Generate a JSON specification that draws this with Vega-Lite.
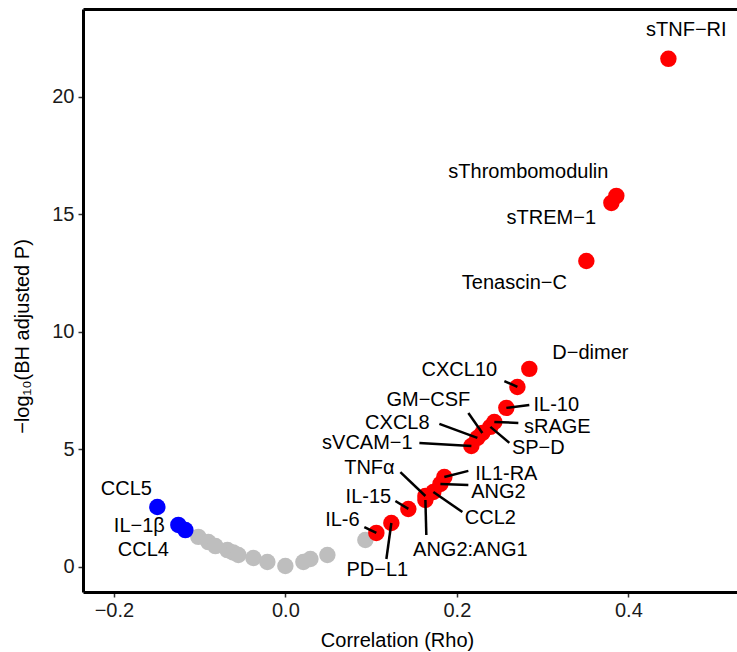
{
  "$schema": "https://vega.github.io/schema/vega-lite/v6.json",
  "width": 654,
  "height": 583,
  "autosize": {"type": "none"},
  "padding": {"left": 83, "top": 9, "right": 0, "bottom": 60},
  "background": "white",
  "config": {
    "view": {"stroke": null},
    "font": "Liberation Sans",
    "axis": {"grid": false, "domainColor": "black", "domainWidth": 3, "tickColor": "#333333", "tickWidth": 1.5, "tickSize": 5, "labelFont": "Liberation Sans", "labelFontSize": 20, "labelColor": "#1a1a1a", "titleFont": "Liberation Sans", "titleFontSize": 20, "titleFontWeight": "normal", "titleColor": "black"}
  },
  "data": {"values": [
    {"name": "g1", "rho": -0.1015, "logp": 1.28, "grp": "ns"},
    {"name": "g2", "rho": -0.0898, "logp": 1.06, "grp": "ns"},
    {"name": "g3", "rho": -0.0816, "logp": 0.89, "grp": "ns"},
    {"name": "g4", "rho": -0.0676, "logp": 0.72, "grp": "ns"},
    {"name": "g5", "rho": -0.0610, "logp": 0.62, "grp": "ns"},
    {"name": "g6", "rho": -0.0548, "logp": 0.51, "grp": "ns"},
    {"name": "g7", "rho": -0.0373, "logp": 0.38, "grp": "ns"},
    {"name": "g8", "rho": -0.0210, "logp": 0.21, "grp": "ns"},
    {"name": "g9", "rho": 0.0, "logp": 0.04, "grp": "ns"},
    {"name": "g10", "rho": 0.0210, "logp": 0.21, "grp": "ns"},
    {"name": "g11", "rho": 0.0292, "logp": 0.34, "grp": "ns"},
    {"name": "g12", "rho": 0.0490, "logp": 0.51, "grp": "ns"},
    {"name": "g13", "rho": 0.0933, "logp": 1.15, "grp": "ns"},
    {"name": "CCL5", "rho": -0.1493, "logp": 2.55, "grp": "neg", "lx": -0.1854, "ly": 3.32},
    {"name": "IL−1β", "rho": -0.1248, "logp": 1.79, "grp": "neg", "lx": -0.1703, "ly": 1.74},
    {"name": "CCL4", "rho": -0.1166, "logp": 1.57, "grp": "neg", "lx": -0.1656, "ly": 0.72},
    {"name": "sTNF−RI", "rho": 0.4467, "logp": 21.62, "grp": "pos", "lx": 0.4676, "ly": 22.85},
    {"name": "sThrombomodulin", "rho": 0.3860, "logp": 15.79, "grp": "pos", "lx": 0.2834, "ly": 16.81},
    {"name": "sTREM−1", "rho": 0.3802, "logp": 15.49, "grp": "pos", "lx": 0.3102, "ly": 14.85},
    {"name": "Tenascin−C", "rho": 0.3510, "logp": 13.02, "grp": "pos", "lx": 0.2671, "ly": 12.09},
    {"name": "D−dimer", "rho": 0.2845, "logp": 8.43, "grp": "pos", "lx": 0.3557, "ly": 9.11},
    {"name": "CXCL10", "rho": 0.2706, "logp": 7.66, "grp": "pos", "lx": 0.2029, "ly": 8.38, "sx": 0.2554, "sy": 7.91},
    {"name": "IL-10", "rho": 0.2577, "logp": 6.77, "grp": "pos", "lx": 0.3160, "ly": 6.89, "sx": 0.2845, "sy": 6.89},
    {"name": "sRAGE", "rho": 0.2437, "logp": 6.17, "grp": "pos", "lx": 0.3172, "ly": 5.96, "sx": 0.2717, "sy": 6.13},
    {"name": "SP−D", "rho": 0.2391, "logp": 5.96, "grp": "pos", "lx": 0.2950, "ly": 5.06, "sx": 0.2612, "sy": 5.28},
    {"name": "GM−CSF", "rho": 0.2297, "logp": 5.70, "grp": "pos", "lx": 0.1668, "ly": 7.11, "sx": 0.2134, "sy": 6.55},
    {"name": "CXCL8", "rho": 0.2239, "logp": 5.49, "grp": "pos", "lx": 0.1306, "ly": 6.13, "sx": 0.1796, "sy": 6.09},
    {"name": "sVCAM−1", "rho": 0.2169, "logp": 5.15, "grp": "pos", "lx": 0.0956, "ly": 5.28, "sx": 0.1563, "sy": 5.28},
    {"name": "IL1-RA", "rho": 0.1854, "logp": 3.83, "grp": "pos", "lx": 0.2577, "ly": 3.96, "sx": 0.2134, "sy": 4.09},
    {"name": "ANG2", "rho": 0.1808, "logp": 3.53, "grp": "pos", "lx": 0.2484, "ly": 3.19, "sx": 0.2134, "sy": 3.49},
    {"name": "CCL2", "rho": 0.1726, "logp": 3.19, "grp": "pos", "lx": 0.2391, "ly": 2.09, "sx": 0.2064, "sy": 2.34},
    {"name": "TNFα", "rho": 0.1633, "logp": 3.02, "grp": "pos", "lx": 0.0980, "ly": 4.21, "sx": 0.1341, "sy": 4.04},
    {"name": "ANG2:ANG1", "rho": 0.1633, "logp": 2.85, "grp": "pos", "lx": 0.2157, "ly": 0.72, "sx": 0.1644, "sy": 1.36},
    {"name": "IL-15", "rho": 0.1434, "logp": 2.47, "grp": "pos", "lx": 0.0968, "ly": 2.98, "sx": 0.1283, "sy": 2.81},
    {"name": "PD−L1", "rho": 0.1236, "logp": 1.87, "grp": "pos", "lx": 0.1073, "ly": -0.13, "sx": 0.1178, "sy": 0.34},
    {"name": "IL-6", "rho": 0.1061, "logp": 1.45, "grp": "pos", "lx": 0.0665, "ly": 2.0, "sx": 0.0921, "sy": 1.70}
  ]},
  "layer": [
    {
      "mark": {"type": "circle", "size": 270, "opacity": 1},
      "encoding": {
        "x": {"field": "rho", "type": "quantitative", "scale": {"domain": [-0.236, 0.5267], "nice": false, "zero": false},
              "axis": {"orient": "bottom", "values": [-0.2, 0, 0.2, 0.4], "format": ".1f", "title": "Correlation (Rho)", "labelPadding": 3, "titleX": 314, "titleY": 54, "titleBaseline": "alphabetic", "titleAnchor": null, "titleAlign": "center"}},
        "y": {"field": "logp", "type": "quantitative", "scale": {"domain": [-1.064, 23.74], "nice": false, "zero": false},
              "axis": {"values": [0, 5, 10, 15, 20], "title": "−log₁₀(BH adjusted P)", "labelPadding": 4, "titleAngle": 270, "titleX": -61, "titleY": 327, "titleAlign": "center", "titleBaseline": "middle", "titleAnchor": null}},
        "color": {"field": "grp", "type": "nominal", "scale": {"domain": ["ns", "neg", "pos"], "range": ["#BEBEBE", "#0000FF", "#FF0000"]}, "legend": null}
      }
    },
    {
      "transform": [{"filter": "isValid(datum.sx)"}],
      "mark": {"type": "rule", "color": "black", "strokeWidth": 2.5},
      "encoding": {
        "x": {"field": "rho", "type": "quantitative", "axis": null},
        "y": {"field": "logp", "type": "quantitative"},
        "x2": {"field": "sx"},
        "y2": {"field": "sy"}
      }
    },
    {
      "transform": [{"filter": "isValid(datum.lx)"}],
      "mark": {"type": "text", "fontSize": 20, "font": "Liberation Sans", "color": "black", "align": "center", "baseline": "middle"},
      "encoding": {
        "x": {"field": "lx", "type": "quantitative", "axis": {"orient": "top", "values": [], "labels": false, "ticks": false, "title": null}},
        "y": {"field": "ly", "type": "quantitative"},
        "text": {"field": "name"}
      }
    }
  ],
  "resolve": {"axis": {"x": "independent"}}
}
